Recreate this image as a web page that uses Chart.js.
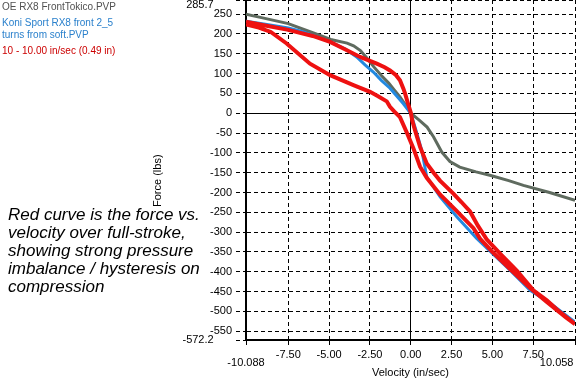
<!DOCTYPE html>
<html>
<head>
<meta charset="utf-8">
<script src="https://cdn.jsdelivr.net/npm/chart.js@4.4.1/dist/chart.umd.min.js"></script>
<style>
  body { margin: 0; background: #fff; }
  #wrap { position: relative; width: 576px; height: 383px; }
  .legend { position: absolute; left: 2px; top: 1px; font: 10px "Liberation Sans", Arial, sans-serif; line-height: 12px; }
  .legend div { margin-bottom: 4px; }
  .note { position: absolute; left: 8px; top: 206px; font: italic 17px "Liberation Sans", Arial, sans-serif; line-height: 18px; color: #000; }
</style>
</head>
<body>
<div id="wrap">
  <canvas id="chart"></canvas>
  <div class="legend">
    <div style="color:#505050">OE RX8 FrontTokico.PVP</div>
    <div style="color:#2a80cc">Koni Sport RX8 front 2_5<br>turns from soft.PVP</div>
    <div style="color:#cc0000">10 - 10.00 in/sec (0.49 in)</div>
  </div>
  <div class="note">Red curve is the force vs.<br>velocity over full-stroke,<br>showing strong pressure<br>imbalance / hysteresis on<br>compression</div>
</div>
<script>
// axis limits and ticks
const xMin = -10.088, xMax = 10.058;
const yMin = -572.2, yMax = 285.7;
const xTicks = [-10.088, -7.5, -5, -2.5, 0, 2.5, 5, 7.5, 10.058];
const yTicks = [-572.2, -550, -500, -450, -400, -350, -300, -250, -200, -150, -100, -50, 0, 50, 100, 150, 200, 250, 285.7];

// OE Tokico (grey)
const oeVelocity = [-10.088, -9.0, -7.5, -6.0, -4.9, -3.9, -3.5, -3.08, -2.7, -2.26, -1.8, -1.35, -1.0, -0.66, -0.3, 0.0, 0.5, 1.0, 1.4, 1.9, 2.4, 3.0, 4.0, 4.9, 6.0, 6.9, 8.5, 10.058];
const oeForce = [250, 240, 226, 203, 186, 177, 170, 158, 140, 117, 95, 76, 58, 41, 20, 0, -17, -35, -60, -98, -122, -136, -148, -157, -170, -182, -200, -220];

// Koni Sport 2.5 turns (blue)
const koniVelocity = [-10.088, -9.0, -7.5, -6.57, -4.94, -4.0, -3.31, -2.8, -2.29, -1.8, -1.27, -0.45, 0.0, 0.3, 0.67, 0.98, 1.8, 2.82, 4.04, 5.0, 6.08, 7.31, 8.5, 10.058];
const koniForce = [232, 225, 215, 205, 180, 162, 142, 122, 104, 83, 63, 24, 0, -40, -93, -161, -211, -261, -316, -354, -396, -447, -478, -527];

// 10 in/sec full-stroke loop (red)
const loopVelocity = [-10.088, -9.0, -7.57, -6.0, -4.94, -4.0, -3.1, -2.5, -2.08, -1.6, -1.27, -0.9, -0.66, -0.45, -0.35, -0.15, 0.0, 0.1, 0.26, 0.57, 0.98, 1.4, 1.79, 2.61, 3.1, 3.63, 4.1, 4.65, 5.47, 6.49, 7.51, 8.33, 9.14, 10.058,
  9.5, 8.33, 7.31, 6.08, 5.0, 4.25, 3.84, 2.82, 1.79, 0.98, 0.57, 0.16, -0.25, -0.66, -1.0, -1.27, -1.47, -2.0, -2.49, -3.51, -4.94, -6.17, -7.6, -8.57, -9.3, -10.088];
const loopForce = [231, 222, 211, 195, 180, 161, 142, 132, 125, 116, 108, 96, 83, 62, 50, 22, 2, -20, -43, -85, -127, -150, -170, -203, -224, -248, -283, -318, -354, -397, -447, -472, -502, -532,
  -515, -476, -441, -393, -350, -317, -290, -247, -205, -163, -135, -88, -48, -10, 4, 16, 30, 43, 54, 71, 96, 125, 176, 205, 216, 224];

const toPoints = (xs, ys) => xs.map((x, i) => ({ x: x, y: ys[i] }));

const tickFont = { family: '"Liberation Sans", Arial, sans-serif', size: 11 };
const dashed = (c) => (c.tick && c.tick.value === 0) ? [] : [4, 3];

new Chart(document.getElementById('chart'), {
  type: 'scatter',
  data: {
    datasets: [
      {
        label: '10 - 10.00 in/sec (0.49 in)',
        data: toPoints(loopVelocity, loopForce),
        showLine: true,
        borderColor: '#ee1111',
        borderWidth: 4,
        pointRadius: 0,
        tension: 0,
      },
      {
        label: 'Koni Sport RX8 front 2_5 turns from soft.PVP',
        data: toPoints(koniVelocity, koniForce),
        showLine: true,
        borderColor: '#2289e0',
        borderWidth: 3,
        pointRadius: 0,
        tension: 0,
      },
      {
        label: 'OE RX8 FrontTokico.PVP',
        data: toPoints(oeVelocity, oeForce),
        showLine: true,
        borderColor: '#5f6b5f',
        borderWidth: 3,
        pointRadius: 0,
        tension: 0,
      },
    ],
  },
  options: {
    responsive: true,
    maintainAspectRatio: false,
    animation: false,
    layout: { padding: { left: 150, right: 1, top: 0, bottom: 0 } },
    plugins: {
      legend: { display: false },
      tooltip: { enabled: false },
    },
    scales: {
      x: {
        type: 'linear',
        min: xMin,
        max: xMax,
        afterBuildTicks: (s) => { s.ticks = xTicks.map((v) => ({ value: v })); },
        afterFit: (s) => { s.height = 43; s.paddingLeft = 0; s.paddingRight = 0; },
        ticks: {
          autoSkip: false,
          maxRotation: 0,
          padding: 0,
          color: '#000',
          font: (c) => ({ ...tickFont, lineHeight: (c.tick && (c.tick.value === xMin || c.tick.value === xMax)) ? '10px' : 1.2 }),
          callback: (v) => {
            if (v === xMin) return ['', '-10.088'];
            if (v === xMax) return ['', '10.058            '];
            return v.toFixed(2);
          },
        },
        grid: { color: '#000', lineWidth: 1, tickLength: 8, tickBorderDash: [4, 3] },
        border: { display: true, color: '#000', width: 2, dash: dashed },
        title: { display: true, text: 'Velocity (in/sec)', color: '#000', font: tickFont, padding: { top: 0, bottom: 3 } },
      },
      y: {
        type: 'linear',
        min: yMin,
        max: yMax,
        afterBuildTicks: (s) => { s.ticks = yTicks.map((v) => ({ value: v })); },
        afterFit: (s) => { s.width = 96; s.paddingTop = 0; s.paddingBottom = 0; },
        ticks: {
          autoSkip: false,
          padding: 4,
          color: '#000',
          font: (c) => ({ ...tickFont, lineHeight: (c.tick && c.tick.value === yMax) ? '10px' : 1.2 }),
          callback: (v) => {
            if (v === yMax) return ['', '285.7      '];
            if (v === yMin) return '-572.2      ';
            return String(v);
          },
        },
        grid: { color: '#000', lineWidth: 1, tickLength: 10, tickBorderDash: [4, 3] },
        border: { display: true, color: '#000', width: 2, dash: dashed },
        title: { display: true, text: 'Force (lbs)       ', color: '#000', font: tickFont, padding: { top: 1, bottom: 0 } },
      },
    },
  },
});
</script>
</body>
</html>
